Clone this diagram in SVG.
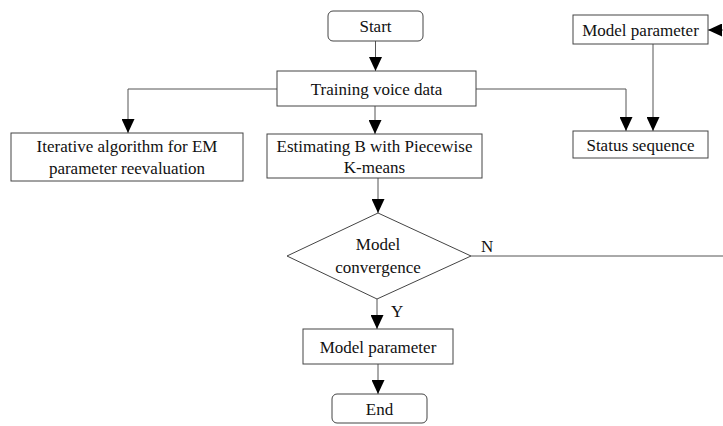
<svg xmlns="http://www.w3.org/2000/svg" width="723" height="426" viewBox="0 0 723 426">
  <defs>
    <marker id="arrow" markerUnits="userSpaceOnUse" markerWidth="14" markerHeight="13" refX="14" refY="6.5" orient="auto">
      <path d="M0,0 L14,6.5 L0,13 Z" fill="#000"/>
    </marker>
  </defs>
  <style>
    .box { fill: #fff; stroke: #444; stroke-width: 1; }
    .edge { fill: none; stroke: #555; stroke-width: 1; }
    .arr { marker-end: url(#arrow); }
    text { font-family: "Liberation Serif", serif; font-size: 17px; fill: #111; text-anchor: middle; }
    .lbl { text-anchor: start; }
  </style>
  <rect width="723" height="426" fill="#fff"/>

  <g id="connectors">
    <line class="edge arr" x1="375.5" y1="41" x2="375.5" y2="71"/>
    <polyline class="edge arr" points="277,89 128,89 128,133"/>
    <line class="edge arr" x1="375" y1="106" x2="375" y2="134"/>
    <polyline class="edge arr" points="476,89 626,89 626,131"/>
    <line class="edge arr" x1="723" y1="30" x2="708" y2="30"/>
    <line class="edge arr" x1="653" y1="44" x2="653" y2="131"/>
    <line class="edge arr" x1="378" y1="178" x2="378" y2="213"/>
    <line class="edge" x1="471" y1="256" x2="723" y2="256"/>
    <line class="edge arr" x1="377" y1="299" x2="377" y2="329"/>
    <line class="edge arr" x1="378" y1="364" x2="378" y2="394"/>
    <text class="lbl" x="481" y="252">N</text>
    <text class="lbl" x="391" y="317">Y</text>
  </g>

  <g id="start">
    <rect class="box" x="328" y="11" width="95" height="30" rx="5"/>
    <text x="375.5" y="32">Start</text>
  </g>
  <g id="training">
    <rect class="box" x="277" y="71" width="199" height="35"/>
    <text x="376.5" y="94.5">Training voice data</text>
  </g>
  <g id="iterative">
    <rect class="box" x="11" y="133" width="232" height="48"/>
    <text x="127" y="152">Iterative algorithm for EM</text>
    <text x="127" y="174">parameter reevaluation</text>
  </g>
  <g id="estimating">
    <rect class="box" x="267" y="134" width="215" height="44"/>
    <text x="374.5" y="152">Estimating B with Piecewise</text>
    <text x="374.5" y="173">K-means</text>
  </g>
  <g id="model-parameter-top">
    <rect class="box" x="573" y="15" width="135" height="29"/>
    <text x="640.5" y="36">Model parameter</text>
  </g>
  <g id="status">
    <rect class="box" x="573" y="131" width="135" height="27"/>
    <text x="640.5" y="151">Status sequence</text>
  </g>
  <g id="convergence">
    <polygon class="box" points="378,213 471,256 377,299 287,256"/>
    <text x="378" y="250">Model</text>
    <text x="378" y="273">convergence</text>
  </g>
  <g id="model-parameter">
    <rect class="box" x="303" y="329" width="150" height="35"/>
    <text x="378" y="353">Model parameter</text>
  </g>
  <g id="end">
    <rect class="box" x="332" y="394" width="95" height="29" rx="5"/>
    <text x="379.5" y="415">End</text>
  </g>
</svg>
